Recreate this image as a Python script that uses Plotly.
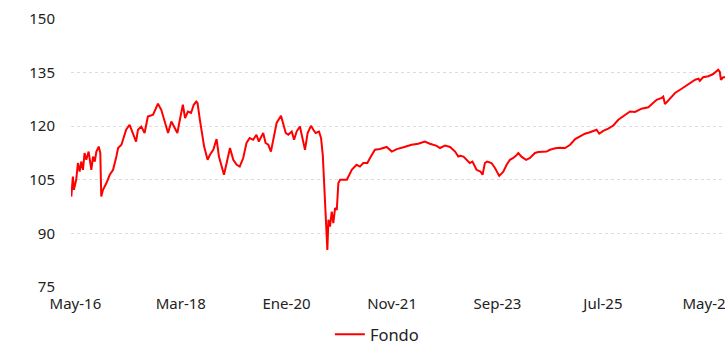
import plotly.graph_objects as go

# Fund value history (base ~100)
dates = [
    "2016-04-05", "2016-04-15", "2016-04-21", "2016-05-06", "2016-05-17", "2016-05-28",
    "2016-06-07", "2016-06-18", "2016-06-28", "2016-07-09", "2016-07-24", "2016-08-10",
    "2016-08-21", "2016-09-01", "2016-09-11", "2016-09-26", "2016-10-06", "2016-10-12",
    "2016-10-23", "2016-11-14", "2016-12-05", "2016-12-26", "2017-01-16", "2017-01-27",
    "2017-02-17", "2017-02-28", "2017-03-19", "2017-04-10", "2017-04-30", "2017-05-21",
    "2017-06-02", "2017-06-23", "2017-07-14", "2017-08-04", "2017-09-06", "2017-09-27",
    "2017-10-07", "2017-10-28", "2017-11-19", "2017-12-10", "2017-12-31", "2018-01-22",
    "2018-02-07", "2018-02-23", "2018-03-14", "2018-03-28", "2018-04-15", "2018-05-05",
    "2018-05-22", "2018-06-07", "2018-06-15", "2018-06-30", "2018-07-14", "2018-07-27",
    "2018-08-18", "2018-09-02", "2018-09-23", "2018-10-14", "2018-10-29", "2018-11-15",
    "2018-11-30", "2018-12-17", "2019-01-07", "2019-01-28", "2019-02-19", "2019-03-10",
    "2019-04-01", "2019-04-22", "2019-05-12", "2019-06-03", "2019-06-24", "2019-07-09",
    "2019-08-06", "2019-08-21", "2019-09-07", "2019-09-24", "2019-10-15", "2019-10-30",
    "2019-11-27", "2019-12-11", "2019-12-27", "2020-01-12", "2020-02-03", "2020-02-18",
    "2020-03-05", "2020-03-26", "2020-04-10", "2020-04-27", "2020-05-14", "2020-06-04",
    "2020-06-19", "2020-07-04", "2020-07-25", "2020-08-07", "2020-08-18", "2020-08-26",
    "2020-09-02", "2020-09-08", "2020-09-16", "2020-09-23", "2020-10-03", "2020-10-14",
    "2020-10-24", "2020-11-04", "2020-11-15", "2020-11-25", "2020-12-06", "2021-01-18",
    "2021-01-28", "2021-02-18", "2021-03-20", "2021-04-11", "2021-05-02", "2021-05-28",
    "2021-06-14", "2021-07-15", "2021-08-16", "2021-09-28", "2021-10-30", "2021-12-01",
    "2022-01-12", "2022-03-05", "2022-04-16", "2022-05-28", "2022-06-29", "2022-08-11",
    "2022-09-01", "2022-10-03", "2022-11-04", "2022-12-06", "2022-12-26", "2023-01-07",
    "2023-01-28", "2023-02-18", "2023-03-09", "2023-03-26", "2023-04-21", "2023-05-16",
    "2023-05-29", "2023-06-13", "2023-06-27", "2023-07-25", "2023-08-16", "2023-09-12",
    "2023-10-08", "2023-10-29", "2023-11-19", "2023-12-10", "2023-12-27", "2024-01-11",
    "2024-02-02", "2024-03-01", "2024-03-25", "2024-04-26", "2024-05-17", "2024-07-09",
    "2024-07-30", "2024-09-01", "2024-10-02", "2024-11-03", "2024-12-05", "2025-01-06",
    "2025-02-07", "2025-03-09", "2025-04-10", "2025-05-22", "2025-06-08", "2025-07-03",
    "2025-08-04", "2025-09-05", "2025-10-07", "2025-11-08", "2025-11-30", "2025-12-20",
    "2026-01-21", "2026-02-11", "2026-03-03", "2026-04-15", "2026-05-06", "2026-06-07",
    "2026-07-09", "2026-07-19", "2026-07-30", "2026-08-31", "2026-10-02", "2026-11-03",
    "2026-12-04", "2027-01-05", "2027-02-07", "2027-02-28", "2027-03-08", "2027-03-29",
    "2027-05-01", "2027-06-01", "2027-07-03", "2027-07-13", "2027-07-20", "2027-08-04",
    "2027-08-15",
]
values = [
    100.3, 105.9, 102.2, 105.0, 109.7, 107.3,
    110.1, 107.8, 112.5, 110.6, 112.9, 107.8,
    111.5, 110.1, 112.9, 114.3, 112.5, 100.3,
    102.2, 104.1, 106.4, 107.8, 111.5, 113.9,
    114.8, 116.2, 119.0, 120.4, 118.1, 115.7,
    119.0, 119.9, 118.1, 122.7, 123.2, 125.1,
    126.3, 124.6, 121.3, 118.1, 121.3, 119.5,
    118.1, 121.8, 126.0, 122.3, 124.1, 123.7,
    126.0, 126.9, 126.5, 121.8, 118.1, 114.3,
    110.6, 112.0, 113.4, 116.4, 111.5, 108.7,
    106.4, 109.7, 113.9, 110.6, 109.2, 108.7,
    111.1, 115.3, 116.7, 116.2, 117.6, 115.7,
    118.1, 115.3, 114.8, 112.9, 117.1, 120.9,
    122.9, 120.9, 118.1, 117.6, 118.5, 116.2,
    118.5, 119.9, 117.1, 113.4, 118.1, 120.1,
    119.0, 118.1, 118.5, 116.7, 112.0, 104.1,
    97.5, 93.8, 85.4, 93.8, 91.9, 96.1,
    92.9, 97.1, 96.6, 104.1, 105.0, 105.0,
    105.9, 107.8, 109.2, 108.7, 109.7, 109.7,
    111.1, 113.4, 113.6, 114.2, 112.9, 113.6,
    114.1, 114.8, 115.1, 115.7, 115.1, 114.5,
    113.9, 114.6, 114.2, 112.9, 111.5, 111.7,
    111.5, 110.6, 109.7, 110.1, 107.8, 107.3,
    106.4, 109.7, 110.1, 109.7, 108.3, 106.1,
    107.3, 109.2, 110.6, 111.1, 111.7, 112.5,
    111.4, 110.6, 111.1, 112.5, 112.8, 112.9,
    113.4, 113.8, 114.0, 113.9, 114.8, 116.4,
    117.3, 117.9, 118.3, 119.0, 117.9, 118.7,
    119.3, 120.2, 121.8, 122.7, 123.4, 124.1,
    124.0, 124.4, 124.9, 125.3, 126.2, 127.4,
    127.9, 128.3, 126.2, 127.9, 129.3, 130.2,
    131.1, 132.1, 133.0, 133.3, 132.7, 133.7,
    134.0, 134.6, 135.8, 135.2, 133.0, 133.7,
    133.7,
]

tick_dates = ["2016-05-01", "2018-03-01", "2020-01-01", "2021-11-01",
              "2023-09-01", "2025-07-01", "2027-05-01"]
tick_labels = ["May-16", "Mar-18", "Ene-20", "Nov-21", "Sep-23", "Jul-25", "May-27"]
y_ticks = [75, 90, 105, 120, 135, 150]

font_family = "Noto Sans, Open Sans, sans-serif"
text_color = "#222222"

fig = go.Figure()
fig.add_trace(go.Scatter(
    x=dates, y=values, mode="lines", name="Fondo",
    line=dict(color="#ff0000", width=2),
))

fig.update_layout(
    width=725, height=345,
    margin=dict(l=71, r=0, t=19, b=58, autoexpand=False),
    paper_bgcolor="white", plot_bgcolor="white",
    font=dict(family=font_family, size=15, color=text_color),
    showlegend=True,
    legend=dict(
        orientation="h", xref="container", yref="container",
        x=0.455, xanchor="left", y=0.03, yanchor="middle",
        font=dict(size=16.5, color=text_color), itemwidth=30,
        bgcolor="rgba(0,0,0,0)",
    ),
    xaxis=dict(
        type="date", range=["2016-04-03", "2027-08-15"],
        tickmode="array", tickvals=tick_dates, ticktext=tick_labels,
        showgrid=False, zeroline=False, showline=False, automargin=False,
        ticklabeloverflow="allow",
        ticks="outside", ticklen=3, tickcolor="rgba(0,0,0,0)",
    ),
    yaxis=dict(
        range=[75, 150], tickmode="array", tickvals=y_ticks,
        showgrid=True, gridcolor="#dddddd", griddash="dot", gridwidth=1,
        zeroline=False, showline=False, automargin=False,
        ticks="outside", ticklen=12, tickcolor="rgba(0,0,0,0)",
    ),
)

fig.write_html("out.html")
